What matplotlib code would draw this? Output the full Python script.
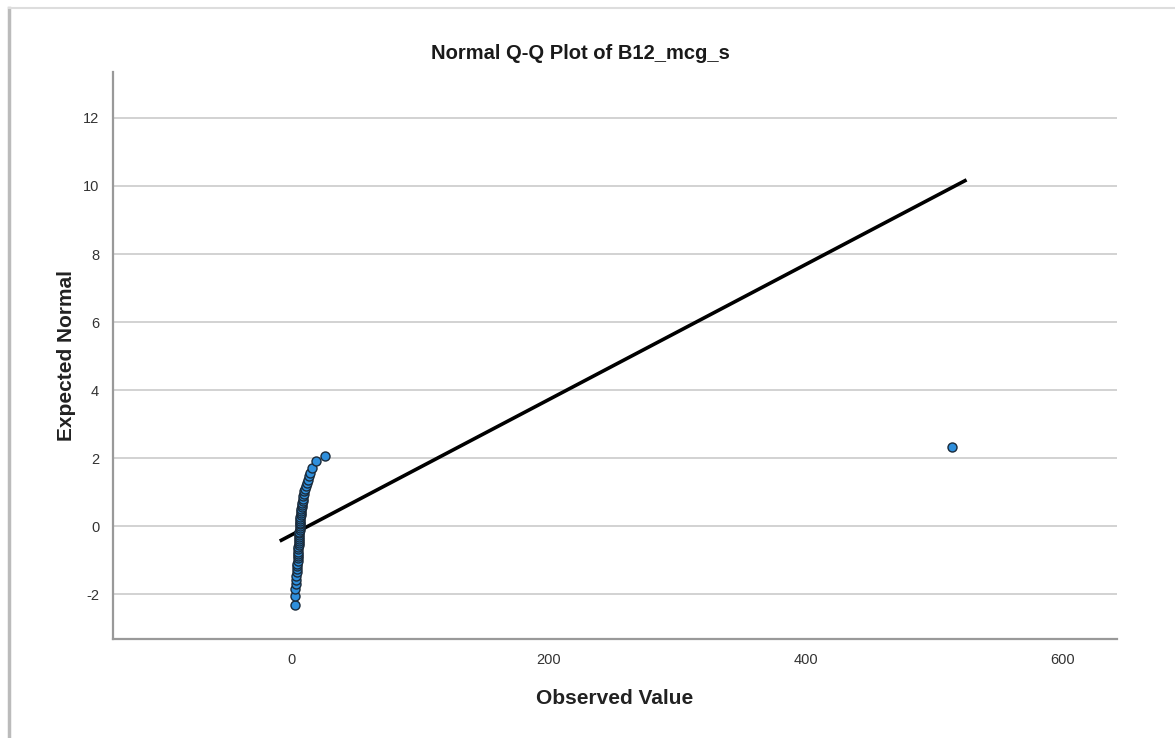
import numpy as np
import matplotlib.pyplot as plt
from matplotlib.lines import Line2D

plt.rcParams['font.family'] = ['Liberation Sans', 'DejaVu Sans']
plt.rcParams['axes.unicode_minus'] = False

observed = [2.3, 2.6, 2.9, 3.2, 3.4, 3.6, 3.8, 4.0, 4.2, 4.4,
            4.6, 4.7, 4.8, 4.9, 5.0, 5.1, 5.2, 5.3, 5.4, 5.5,
            5.6, 5.7, 5.8, 5.9, 6.0, 6.1, 6.2, 6.3,
            6.4, 6.5, 6.6, 6.7, 6.8, 7.0, 7.1, 7.3, 7.5, 7.7,
            7.9, 8.1, 8.4, 8.7, 9.0, 9.4, 9.8, 10.3, 10.9, 11.6,
            12.4, 13.4, 14.6, 16.0, 18.7, 25.7, 513.6]
expected = [-2.32, -2.05, -1.85, -1.70, -1.57, -1.46, -1.36, -1.27, -1.18, -1.10,
            -1.02, -0.95, -0.88, -0.81, -0.75, -0.68, -0.62, -0.56, -0.50, -0.44,
            -0.38, -0.32, -0.27, -0.21, -0.16, -0.10, -0.05, 0.00,
            0.05, 0.10, 0.16, 0.21, 0.27, 0.32, 0.38, 0.44, 0.50, 0.56,
            0.62, 0.68, 0.75, 0.81, 0.88, 0.95, 1.02, 1.10, 1.18, 1.27,
            1.36, 1.46, 1.57, 1.70, 1.90, 2.07, 2.32]

# reference line end points
line_x = [-9.3, 525.0]
line_y = [-0.44, 10.18]

x_ticks = [0, 200, 400, 600]
y_ticks = [-2, 0, 2, 4, 6, 8, 10, 12]

fig = plt.figure(figsize=(11.75, 7.38), dpi=100)
ax = fig.add_axes([0.0962, 0.1341, 0.8544, 0.7683])

ax.plot(line_x, line_y, color='black', lw=2.6, zorder=3, solid_capstyle='butt')
ax.plot(observed, expected, 'o', ms=6.5, mfc='#2f8fdc', mec='#1a2a3a', mew=1.0, zorder=4)

ax.set_xlim(-139, 642)
ax.set_ylim(-3.32, 13.35)
ax.set_xticks(x_ticks)
ax.set_yticks(y_ticks)
ax.tick_params(length=0, labelsize=10.5, colors='#333333', pad=10)
ax.yaxis.grid(True, color='#cfcfcf', lw=1.3)
ax.set_axisbelow(True)

for s in ['top', 'right']:
    ax.spines[s].set_visible(False)
for s in ['left', 'bottom']:
    ax.spines[s].set_color('#999999')
    ax.spines[s].set_linewidth(1.6)

fig.text(0.494, 0.927, 'Normal Q-Q Plot of B12_mcg_s', fontsize=14.5, fontweight='bold',
         color='#1a1a1a', ha='center', va='center')
ax.set_xlabel('Observed Value', fontsize=15, fontweight='bold', color='#222222', labelpad=16)
ax.set_ylabel('Expected Normal', fontsize=15, fontweight='bold', color='#222222', labelpad=5)

# screenshot frame edges
fig.add_artist(Line2D([0.008, 0.008], [0.0, 0.989], color='#bbbbbb', lw=2.5, transform=fig.transFigure))
fig.add_artist(Line2D([0.008, 1.0], [0.989, 0.989], color='#dddddd', lw=1.5, transform=fig.transFigure))

fig.savefig('out.png', dpi=100)
